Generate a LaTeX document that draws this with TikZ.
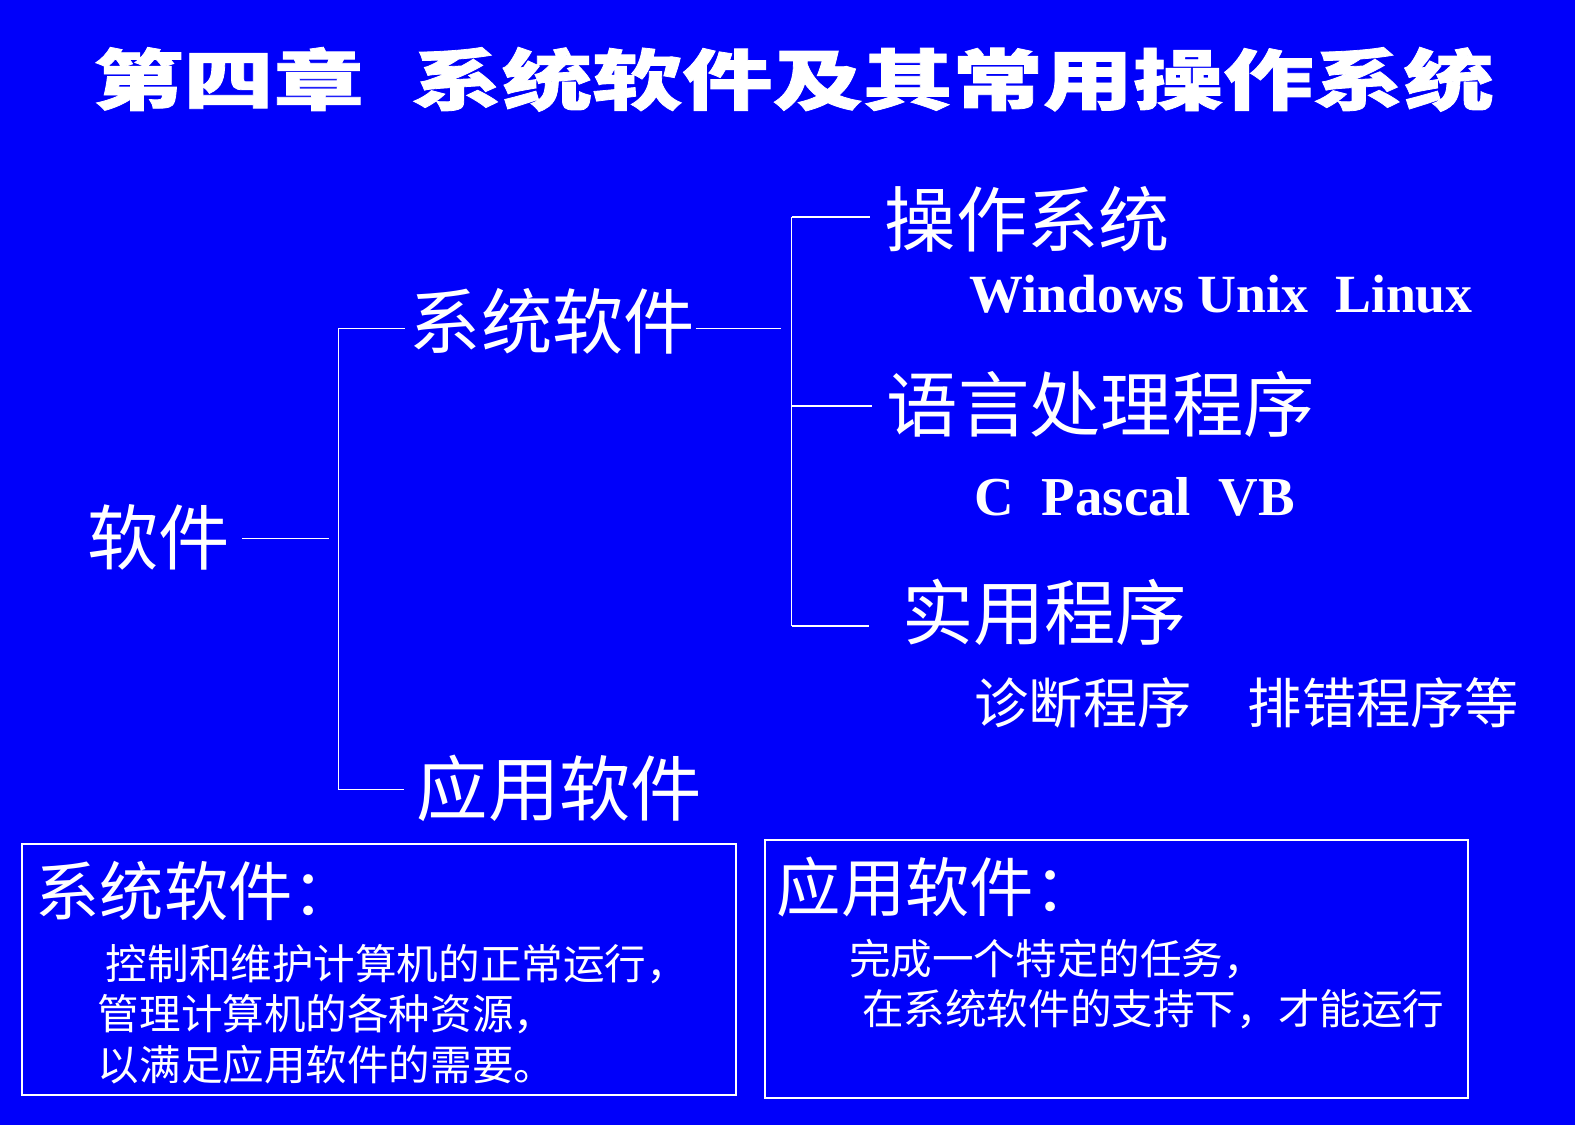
\documentclass[tikz,border=0pt]{standalone}
\usepackage{fontspec}
\setmainfont{Liberation Serif}
\newfontfamily\cjk{Noto Sans CJK SC}
\newfontfamily\titlefont{Noto Sans CJK SC}[FakeStretch=1.36,FakeBold=1.2]
\definecolor{bg}{RGB}{0,0,250}
\begin{document}
\begin{tikzpicture}[x=0.5pt,y=-0.5pt,
  lbl/.style={text=white, inner sep=0pt, font=\cjk\fontsize{35.5pt}{40pt}\selectfont},
  sub/.style={text=white, inner sep=0pt, font=\cjk\fontsize{27pt}{30pt}\selectfont},
  latin/.style={text=white, inner sep=0pt, font=\bfseries\fontsize{27.3pt}{31pt}\selectfont},
  conn/.style={draw=white, line width=0.9pt},
  panel/.style={draw=white, line width=1pt, inner sep=0pt},
  head/.style={text=white, inner sep=0pt, anchor=west, font=\cjk\fontsize{32pt}{36pt}\selectfont},
  body/.style={text=white, inner sep=0pt, anchor=west, font=\cjk\fontsize{20.7pt}{24pt}\selectfont}]
\fill[bg] (0,0) rectangle (1568,1120);
\useasboundingbox (0,0) rectangle (1568,1120);

% title
\node[text=white, inner sep=0pt, font=\titlefont\bfseries\fontsize{33pt}{36pt}\selectfont] (title) at (790,79)
  {第四章\hspace{24pt}系统软件及其常用操作系统};

% tree labels
\node[lbl] (rj) at (158,535) {软件};
\node[lbl] (xt) at (550,320) {系统软件};
\node[lbl] (yy) at (557,785) {应用软件};
\node[lbl] (cz) at (1023,218) {操作系统};
\node[lbl] (yc) at (1096,403) {语言处理程序};
\node[lbl] (sy) at (1040,610) {实用程序};
\node[latin, anchor=base west, font=\bfseries\fontsize{26.8pt}{30pt}\selectfont] (os) at (965,311) {Windows Unix\ \ Linux};
\node[latin, anchor=base west] (lang) at (970,513) {C\ \ Pascal\ \ VB};
\node[sub, anchor=west] (ut) at (970,700) {诊断程序\hspace{28pt}排错程序等};

% junction coordinates
\coordinate (a1) at (328,536);
\coordinate (v1t) at (337,327);
\coordinate (v1b) at (337,786);
\coordinate (b1) at (778,327);
\coordinate (v2t) at (788,216);
\coordinate (v2m) at (788,404);
\coordinate (v2b) at (788,623);

% connectors
\draw[conn, shorten <=6pt] (rj.east |- a1) -- (a1);
\draw[conn] (v1t) -- (v1b);
\draw[conn, shorten >=2pt] (v1t) -- (xt.west |- v1t);
\draw[conn, shorten >=6pt] (v1b) -- (yy.west |- v1b);
\draw[conn] (xt.east |- b1) -- (b1);
\draw[conn] (v2t) -- (v2b);
\draw[conn, shorten >=7pt] (v2t) -- (cz.west |- v2t);
\draw[conn, shorten >=7pt] (v2m) -- (yc.west |- v2m);
\draw[conn, shorten >=16pt] (v2b) -- (sy.west |- v2b);

% panels
\node[panel, minimum width=355.5pt, minimum height=125pt] (sysbox) at (377.5,965) {};
\node[panel, minimum width=349.5pt, minimum height=128.5pt] (appbox) at (1111.5,964.5) {};

\node[head] (sysh) at (35,887) {系统软件：};
\node[body] (s1) at (105,960) {控制和维护计算机的正常运行，};
\node[body] (s2) at (97,1010) {管理计算机的各种资源，};
\node[body] (s3) at (97,1060) {以满足应用软件的需要。};

\node[head] (apph) at (773,883) {应用软件：};
\node[body] (a1t) at (845,955) {完成一个特定的任务，};
\node[body] (a2t) at (858,1005) {在系统软件的支持下，才能运行};
\end{tikzpicture}
\end{document}
